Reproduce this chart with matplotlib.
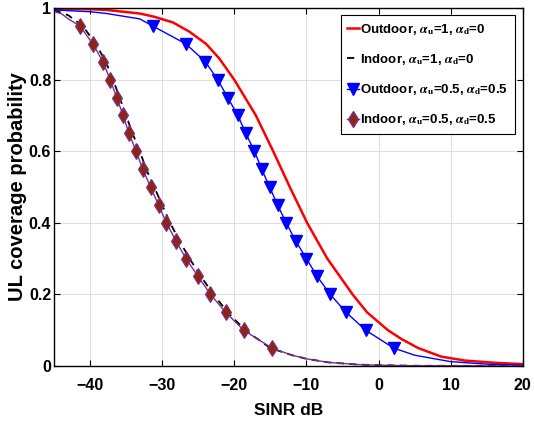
import matplotlib
matplotlib.use("Agg")
import matplotlib.pyplot as plt

plt.rcParams['font.family'] = ['Liberation Sans', 'DejaVu Sans']
plt.rcParams['font.weight'] = 'bold'
plt.rcParams['mathtext.fontset'] = 'stix'

# Outdoor, alpha_u=1, alpha_d=0 (red solid)
out1_x = [-45, -40, -37.7, -33.1, -31.1, -28.5, -26.2, -23.9, -22.1, -20, -18.5, -17, -14.6,
          -12.3, -9.9, -7.1, -3.6, -1.6, 1.3, 3.2, 5.5, 8.7, 12.0, 16, 20]
out1_y = [0.998, 0.997, 0.995, 0.985, 0.976, 0.96, 0.934, 0.90, 0.86, 0.80, 0.75, 0.70, 0.60,
          0.50, 0.40, 0.30, 0.20, 0.15, 0.10, 0.075, 0.05, 0.026, 0.015, 0.009, 0.005]

# Indoor, alpha_u=1, alpha_d=0 (black dashed)
in1_x = [-45, -43, -41, -39.2, -37.8, -36.8, -35.9, -35.0, -34.1, -33.1, -32.2, -31.1, -30.0,
         -28.9, -27.6, -26.2, -24.6, -22.9, -20.9, -18.5, -15, -12, -10, -7, -3, 0, 5, 20]
in1_y = [0.995, 0.98, 0.95, 0.90, 0.85, 0.80, 0.75, 0.70, 0.65, 0.60, 0.55, 0.50, 0.45,
         0.40, 0.35, 0.30, 0.25, 0.20, 0.15, 0.10, 0.05, 0.03, 0.02, 0.01, 0.004, 0.002, 0.0005, 0.0]

# Outdoor, alpha_u=0.5, alpha_d=0.5 (blue, triangles)
out2_mx = [-31.3, -26.7, -24.0, -22.3, -20.9, -19.5, -18.4, -17.2, -16.2, -15.1,
           -14.0, -12.8, -11.5, -10.0, -8.5, -6.7, -4.5, -1.8, 2.1]
out2_my = [0.95, 0.90, 0.85, 0.80, 0.75, 0.70, 0.65, 0.60, 0.55, 0.50,
           0.45, 0.40, 0.35, 0.30, 0.25, 0.20, 0.15, 0.10, 0.05]
out2_x = [-45, -40, -37.7, -33.1] + out2_mx + [5, 10, 15, 20]
out2_y = [0.995, 0.99, 0.985, 0.97] + out2_my + [0.03, 0.012, 0.005, 0.002]

# Indoor, alpha_u=0.5, alpha_d=0.5 (purple line, brown diamonds)
in2_mx = [-41.4, -39.6, -38.2, -37.2, -36.3, -35.4, -34.6, -33.6, -32.7, -31.6,
          -30.5, -29.4, -28.1, -26.7, -25.0, -23.3, -21.2, -18.7, -14.8]
in2_my = [0.95, 0.90, 0.85, 0.80, 0.75, 0.70, 0.65, 0.60, 0.55, 0.50,
          0.45, 0.40, 0.35, 0.30, 0.25, 0.20, 0.15, 0.10, 0.05]
in2_x = [-45, -44, -43] + in2_mx + [-12, -10, -7, -3, 0, 5, 20]
in2_y = [0.99, 0.985, 0.97] + in2_my + [0.03, 0.02, 0.01, 0.004, 0.002, 0.0005, 0.0]

purple = (0.49, 0.18, 0.56)
brown = (0.55, 0.15, 0.07)

fig = plt.figure(figsize=(5.34, 4.29), dpi=100)
ax = fig.add_axes([0.101, 0.147, 0.878, 0.834])

ax.plot(out1_x, out1_y, color='red', lw=1.8)
ax.plot(in1_x, in1_y, color='black', lw=1.3, ls=(0, (4, 3)))
ax.plot(out2_x, out2_y, color='blue', lw=1.0)
ax.plot(out2_mx, out2_my, ls='none', marker='v', ms=8, color='blue')
ax.plot(in2_x, in2_y, color=purple, lw=1.0)
ax.plot(in2_mx, in2_my, ls='none', marker='d', ms=8, mfc=brown, mec=purple, mew=0.8)

# legend proxies
h1, = ax.plot([], [], color='red', lw=1.8)
h2, = ax.plot([], [], color='black', lw=1.3, ls=(0, (4, 3)))
h3, = ax.plot([], [], color='blue', lw=1.0, marker='v', ms=8)
h4, = ax.plot([], [], color=purple, lw=1.0, marker='d', ms=8, mfc=brown, mec=purple)
labels = [r'Outdoor, $\alpha_\mathbf{u}$=1, $\alpha_\mathbf{d}$=0',
          r'Indoor, $\alpha_\mathbf{u}$=1, $\alpha_\mathbf{d}$=0',
          r'Outdoor, $\alpha_\mathbf{u}$=0.5, $\alpha_\mathbf{d}$=0.5',
          r'Indoor, $\alpha_\mathbf{u}$=0.5, $\alpha_\mathbf{d}$=0.5']
leg = ax.legend([h1, h2, h3, h4], labels, loc='upper right', fontsize=9.5,
                bbox_to_anchor=(0.983, 0.98), borderaxespad=0,
                handlelength=0.9, handletextpad=0.1, borderpad=0.5, labelspacing=1.15,
                fancybox=False, edgecolor='black', framealpha=1)
leg.get_frame().set_linewidth(0.8)

ax.set_xlim(-45, 20)
ax.set_ylim(0, 1)
ax.set_xticks([-40, -30, -20, -10, 0, 10, 20])
ax.set_yticks([0, 0.2, 0.4, 0.6, 0.8, 1])
ax.set_yticklabels(['0', '0.2', '0.4', '0.6', '0.8', '1'])
ax.tick_params(direction='in', labelsize=11.5, top=True, right=True, length=4)
ax.tick_params(axis='x', pad=9)
ax.tick_params(axis='y', pad=2)
ax.grid(True, color='#e0e0e0', lw=0.8)
for s in ax.spines.values():
    s.set_linewidth(1.0)
ax.set_xlabel('SINR dB', fontsize=12.5, fontweight='bold', labelpad=7)
ax.set_ylabel('UL coverage probability', fontsize=14.5, fontweight='bold', labelpad=1)

fig.savefig('out.png', dpi=100)
